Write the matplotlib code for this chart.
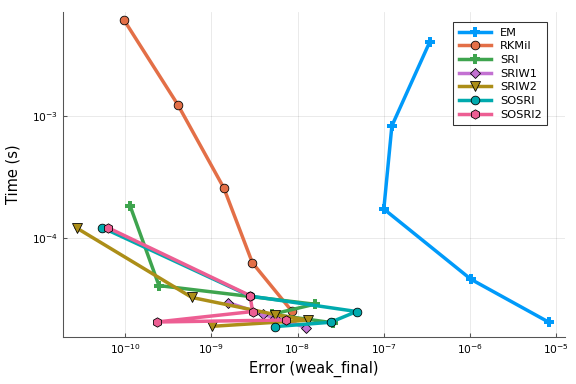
import matplotlib
matplotlib.use("Agg")
import matplotlib.pyplot as plt
from matplotlib.ticker import FixedLocator, LogFormatterSciNotation, NullLocator

# weak error vs. run time for each SDE solver
em_err = [3.42e-7, 1.24e-7, 1.00e-7, 1.02e-6, 8.19e-6]
em_time = [4.05e-3, 8.28e-4, 1.73e-4, 4.61e-5, 2.05e-5]

rkmil_err = [9.7e-11, 4.11e-10, 1.40e-9, 3.0e-9, 8.55e-9]
rkmil_time = [6.12e-3, 1.23e-3, 2.57e-4, 6.28e-5, 2.54e-5]

sri_err = [1.15e-10, 2.48e-10, 1.58e-8, 5.05e-9, 2.57e-8]
sri_time = [1.83e-4, 4.09e-5, 2.88e-5, 2.38e-5, 2.03e-5]

sriw1_err = [1.57e-9, 4.01e-9, 5.55e-9, 7.28e-9, 1.27e-8]
sriw1_time = [2.97e-5, 2.38e-5, 2.21e-5, 2.13e-5, 1.84e-5]

sriw2_err = [2.76e-11, 5.97e-10, 5.52e-9, 1.32e-8, 1.03e-9]
sriw2_time = [1.21e-4, 3.27e-5, 2.37e-5, 2.13e-5, 1.90e-5]

sosri_err = [5.46e-11, 2.81e-9, 4.84e-8, 2.42e-8, 5.52e-9]
sosri_time = [1.22e-4, 3.36e-5, 2.51e-5, 2.05e-5, 1.89e-5]

sosri2_err = [6.30e-11, 2.81e-9, 3.02e-9, 2.33e-10, 7.28e-9]
sosri2_time = [1.22e-4, 3.39e-5, 2.51e-5, 2.06e-5, 2.14e-5]

x_ticks = [1e-10, 1e-9, 1e-8, 1e-7, 1e-6, 1e-5]
y_ticks = [1e-4, 1e-3]

SERIES = [
    ("EM", em_err, em_time, "#009AFA", "P", 8),
    ("RKMil", rkmil_err, rkmil_time, "#E36F47", "o", 6.5),
    ("SRI", sri_err, sri_time, "#3EA44E", "P", 8),
    ("SRIW1", sriw1_err, sriw1_time, "#C371D2", "D", 5.5),
    ("SRIW2", sriw2_err, sriw2_time, "#AC8E18", "v", 7),
    ("SOSRI", sosri_err, sosri_time, "#00AAAE", "o", 6.5),
    ("SOSRI2", sosri2_err, sosri2_time, "#ED5E93", "h", 7),
]

fig = plt.figure(figsize=(6, 4), dpi=96)
ax = fig.add_axes([0.109, 0.122, 0.872, 0.847])

for name, err, t, color, marker, ms in SERIES:
    if marker == "P":
        ax.plot(err, t, color=color, lw=2.6, marker=marker, ms=ms,
                mfc=color, mec=color, mew=0, label=name)
    else:
        ax.plot(err, t, color=color, lw=2.6, marker=marker, ms=ms,
                mfc=color, mec="black", mew=0.6, label=name)

ax.set_xscale("log")
ax.set_yscale("log")
ax.set_xlim(10 ** -10.72, 10 ** -4.9)
ax.set_ylim(10 ** -4.81, 10 ** -2.15)
ax.xaxis.set_major_locator(FixedLocator(x_ticks))
ax.yaxis.set_major_locator(FixedLocator(y_ticks))
ax.xaxis.set_major_formatter(LogFormatterSciNotation())
ax.yaxis.set_major_formatter(LogFormatterSciNotation())
ax.xaxis.set_minor_locator(NullLocator())
ax.yaxis.set_minor_locator(NullLocator())

ax.grid(True, color="#000000", alpha=0.1, lw=0.6)
ax.set_axisbelow(True)
for side in ("top", "right"):
    ax.spines[side].set_visible(False)
for side in ("left", "bottom"):
    ax.spines[side].set_color("#555555")
ax.tick_params(direction="in", length=3, labelsize=8, color="#555555")

ax.set_xlabel("Error (weak_final)", fontsize=11)
ax.set_ylabel("Time (s)", fontsize=11, labelpad=9)

leg = ax.legend(loc="upper right", fontsize=8.5, frameon=True, fancybox=False,
                edgecolor="black", borderaxespad=0.9, handlelength=2.8,
                labelspacing=0.32, borderpad=0.5,
                bbox_to_anchor=(0.985, 1.0))
leg.get_frame().set_linewidth(0.8)

fig.savefig("out.png", dpi=96)
